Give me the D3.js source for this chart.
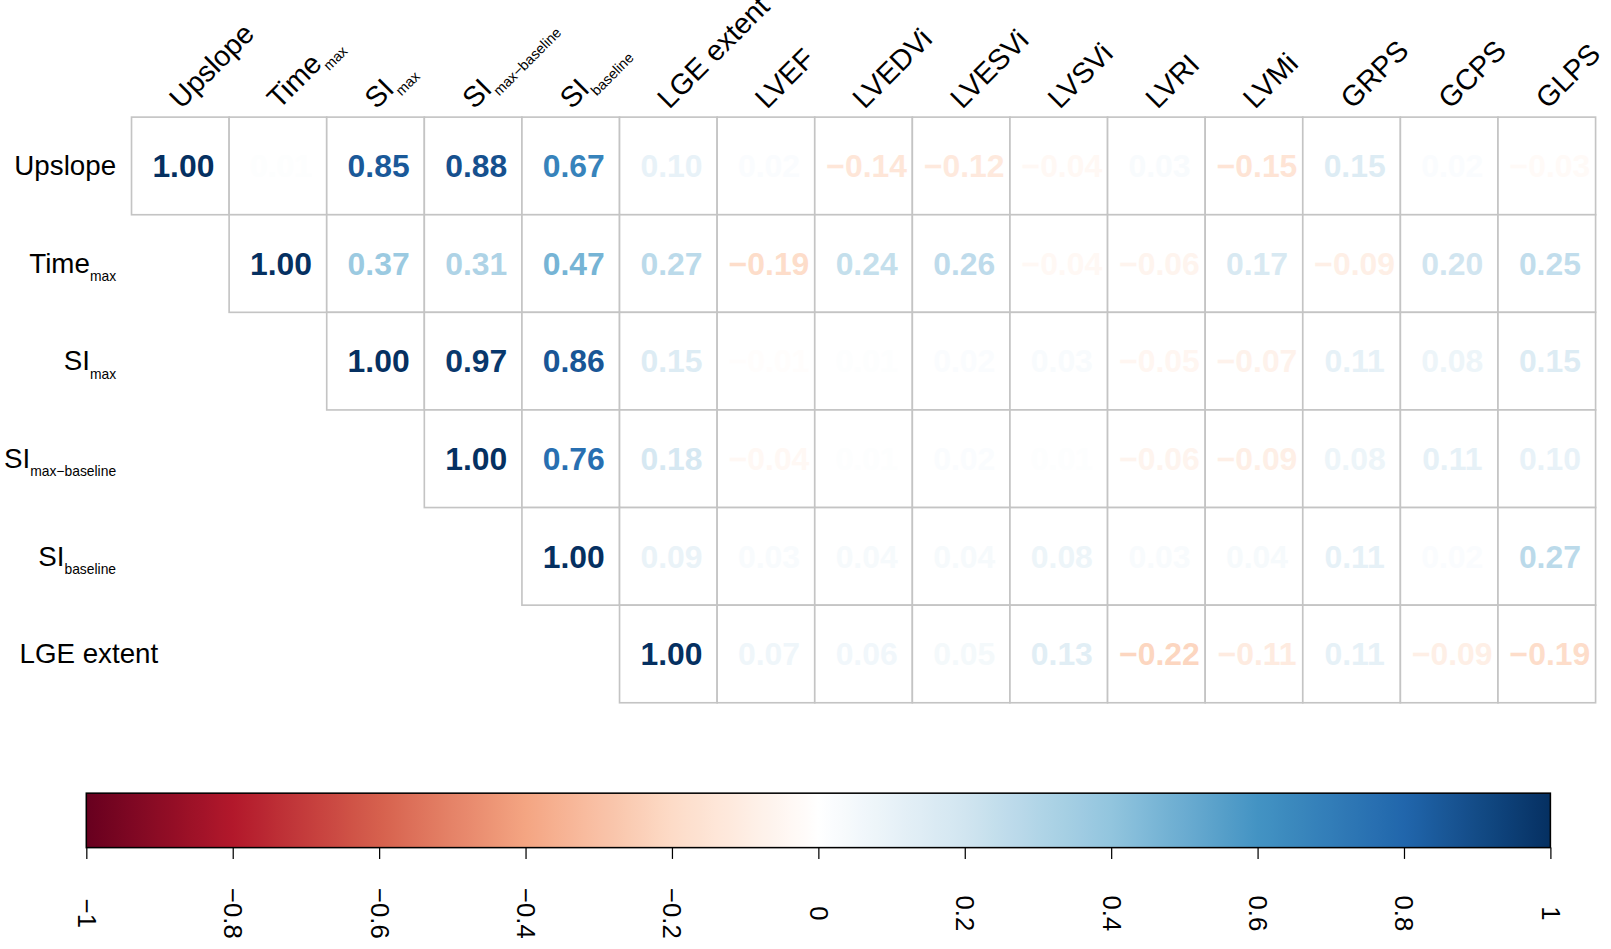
<!DOCTYPE html>
<html>
<head>
<meta charset="utf-8">
<script src="https://cdn.jsdelivr.net/npm/d3@7"></script>
<style>
  html, body { margin: 0; padding: 0; background: #fff; }
  svg { display: block; font-family: "Liberation Sans", Arial, sans-serif; }
</style>
</head>
<body>
<svg id="chart" width="1611" height="949"></svg>
<script>
// ---------- data ----------
const colMain = ["Upslope", "Time", "SI", "SI", "SI", "LGE extent", "LVEF", "LVEDVi", "LVESVi", "LVSVi", "LVRI", "LVMi", "GRPS", "GCPS", "GLPS"];
const colSub  = ["", "max", "max", "max\u2212baseline", "baseline", "", "", "", "", "", "", "", "", "", ""];
const rowMain = ["Upslope", "Time", "SI", "SI", "SI", "LGE extent"];
const rowSub  = ["", "max", "max", "max\u2212baseline", "baseline", ""];

// upper-triangle correlation values; row i starts at column i
const rowUpslope   = [1.00, 0.01, 0.85, 0.88, 0.67, 0.10, 0.02, -0.14, -0.12, -0.04, 0.03, -0.15, 0.15, 0.02, -0.03];
const rowTimeMax   = [1.00, 0.37, 0.31, 0.47, 0.27, -0.19, 0.24, 0.26, -0.04, -0.06, 0.17, -0.09, 0.20, 0.25];
const rowSIMax     = [1.00, 0.97, 0.86, 0.15, -0.01, 0.01, 0.02, 0.03, -0.05, -0.07, 0.11, 0.08, 0.15];
const rowSIMaxBase = [1.00, 0.76, 0.18, -0.04, 0.01, 0.02, 0.01, -0.06, -0.09, 0.08, 0.11, 0.10];
const rowSIBase    = [1.00, 0.09, 0.03, 0.04, 0.04, 0.08, 0.03, 0.04, 0.11, 0.02, 0.27];
const rowLGE       = [1.00, 0.07, 0.06, 0.05, 0.13, -0.22, -0.11, 0.11, -0.09, -0.19];
const rowValues = [rowUpslope, rowTimeMax, rowSIMax, rowSIMaxBase, rowSIBase, rowLGE];

const legendTicks = [-1, -0.8, -0.6, -0.4, -0.2, 0, 0.2, 0.4, 0.6, 0.8, 1];
const paletteColors = ["#67001F", "#B2182B", "#D6604D", "#F4A582", "#FDDBC7", "#FFFFFF", "#D1E5F0", "#92C5DE", "#4393C3", "#2166AC", "#053061"];

// ---------- build ----------
const K = 1611 / 1568;
const svg = d3.select("#chart");
const root = svg.append("g").attr("transform", `scale(${K})`);
const color = d3.scaleLinear()
  .domain(d3.range(paletteColors.length).map(i => -1 + i * 2 / (paletteColors.length - 1)))
  .range(paletteColors)
  .interpolate(d3.interpolateRgb);

const x = d3.scaleBand().domain(d3.range(colMain.length)).range([128, 1553]);
const y = d3.scaleBand().domain(d3.range(rowMain.length)).range([114, 684]);

const cells = [];
rowValues.forEach((vals, r) => vals.forEach((v, k) => cells.push({ r, c: r + k, v })));

const fmt = v => (v < 0 ? "\u2212" : "") + Math.abs(v).toFixed(2);

const g = root.append("g");
g.selectAll("rect.cell").data(cells).join("rect")
  .attr("class", "cell")
  .attr("x", d => x(d.c)).attr("y", d => y(d.r))
  .attr("width", x.bandwidth()).attr("height", y.bandwidth())
  .attr("fill", "#fff").attr("stroke", "#c4c4c4").attr("stroke-width", 1.6);

g.selectAll("text.val").data(cells).join("text")
  .attr("class", "val")
  .attr("x", d => x(d.c) + x.bandwidth() / 2 + 3)
  .attr("y", d => y(d.r) + y.bandwidth() / 2 + 11)
  .attr("text-anchor", "middle")
  .attr("font-size", 31).attr("font-weight", "bold")
  .attr("fill", d => color(d.v))
  .text(d => fmt(d.v));

// row labels
const rl = root.append("g").selectAll("text").data(rowMain).join("text")
  .attr("x", (d, i) => rowSub[i] === "" && d.length > 8 ? 154 : 113)
  .attr("y", (d, i) => y(i) + y.bandwidth() / 2 + 9)
  .attr("text-anchor", "end")
  .attr("font-size", 27)
  .attr("fill", "#000");
rl.append("tspan").text(d => d);
rl.append("tspan").attr("font-size", 13.5).attr("dy", 8)
  .text((d, i) => rowSub[i]);

// column labels (rotated 45°)
const cl = root.append("g").selectAll("text").data(colMain).join("text")
  .attr("transform", (d, i) => `translate(${x(i) + x.bandwidth() / 2 + 1},${107}) rotate(-45)`)
  .attr("font-size", 28)
  .attr("fill", "#000");
cl.append("tspan").text(d => d);
cl.append("tspan").attr("font-size", 14).attr("dy", 8)
  .text((d, i) => colSub[i]);

// ---------- colour legend ----------
const lx = d3.scaleLinear().domain([-1, 1]).range([84, 1509]);
const defs = svg.append("defs");
const grad = defs.append("linearGradient").attr("id", "cbar")
  .attr("x1", "0%").attr("x2", "100%").attr("y1", "0%").attr("y2", "0%");
d3.range(0, 101).forEach(i => {
  const t = -1 + i * 0.02;
  grad.append("stop").attr("offset", `${i}%`).attr("stop-color", color(t));
});
root.append("rect")
  .attr("x", lx(-1)).attr("y", 772)
  .attr("width", lx(1) - lx(-1)).attr("height", 53)
  .attr("fill", "url(#cbar)").attr("stroke", "#000").attr("stroke-width", 1.5);

const axis = d3.axisBottom(lx).tickValues(legendTicks).tickSize(11)
  .tickFormat(d => d === 0 ? "0" : (d < 0 ? "\u2212" : "") + String(Math.abs(d)));
const ax = root.append("g").attr("transform", "translate(0,825)").call(axis);
ax.select(".domain").remove();
ax.selectAll(".tick line").attr("stroke", "#000").attr("stroke-width", 1.2);
ax.selectAll(".tick text")
  .attr("font-size", 25)
  .attr("font-family", "Liberation Sans, Arial, sans-serif")
  .attr("fill", "#000")
  .attr("text-anchor", "middle")
  .attr("dy", null)
  .attr("x", 0).attr("y", 0)
  .attr("transform", "translate(0,64) rotate(90)")
  .attr("dominant-baseline", "central");
</script>
</body>
</html>
